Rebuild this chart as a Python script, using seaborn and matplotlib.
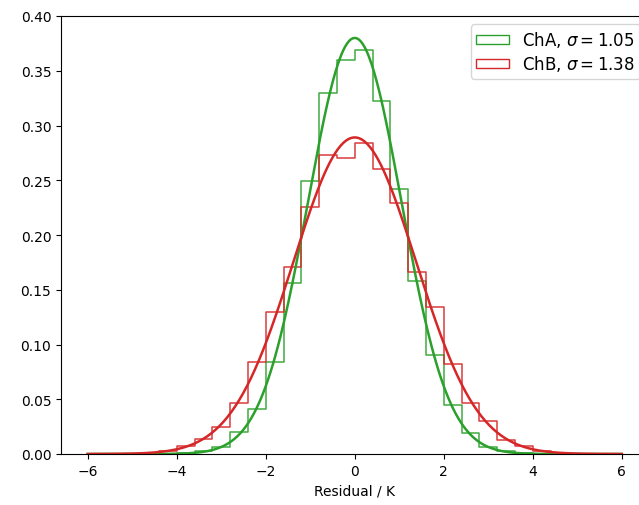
import numpy as np
import pandas as pd
import matplotlib
matplotlib.use("Agg")
import matplotlib.pyplot as plt
import matplotlib.patches as mpatches
import seaborn as sns

# bins of width 0.4 from -6 to 6
bin_edges = np.linspace(-6, 6, 31)
bin_centers = (bin_edges[:-1] + bin_edges[1:]) / 2

# normalised counts (30 bins, -6 .. 6)
cha_density = [0, 0, 0, 0, 0, 0.0006, 0.003, 0.0067, 0.0204, 0.041,
               0.0843, 0.156, 0.2496, 0.330, 0.360, 0.369, 0.322, 0.242,
               0.158, 0.0907, 0.0447, 0.0189, 0.0067, 0.003, 0.0006,
               0, 0, 0, 0, 0]
chb_density = [0, 0, 0, 0.001, 0.003, 0.0076, 0.0137, 0.0244, 0.0463, 0.0843,
               0.130, 0.171, 0.226, 0.273, 0.270, 0.284, 0.260, 0.229,
               0.166, 0.1345, 0.0825, 0.047, 0.0298, 0.0128, 0.0076,
               0.003, 0.001, 0, 0, 0]
cha_sigma = 1.05
chb_sigma = 1.38

green = "#2ca02c"
red = "#d62728"

fig = plt.figure(figsize=(6.39, 5.06), dpi=100)
ax = fig.add_axes([61 / 639, 51 / 506, 587.5 / 639, 438 / 506])

df_a = pd.DataFrame({"x": bin_centers, "w": cha_density})
df_b = pd.DataFrame({"x": bin_centers, "w": chb_density})
sns.histplot(data=df_a, x="x", weights="w", bins=list(bin_edges),
             element="step", fill=False, color=green, lw=1.1, alpha=0.9, ax=ax)
sns.histplot(data=df_b, x="x", weights="w", bins=list(bin_edges),
             element="step", fill=False, color=red, lw=1.1, alpha=0.9, ax=ax)

# gaussian fits
xs = np.linspace(-6, 6, 400)
for sig, col in [(cha_sigma, green), (chb_sigma, red)]:
    pdf = np.exp(-xs ** 2 / (2 * sig ** 2)) / (np.sqrt(2 * np.pi) * sig)
    sns.lineplot(x=xs, y=pdf, color=col, lw=1.8, ax=ax)

ax.set_xlim(-6.6, 6.6)
ax.set_ylim(0, 0.4)
ax.set_xlabel("Residual / K")
ax.set_ylabel("")

handles = [
    mpatches.Patch(facecolor="none", edgecolor=green, label=r"ChA, $\sigma = 1.05$"),
    mpatches.Patch(facecolor="none", edgecolor=red, label=r"ChB, $\sigma = 1.38$"),
]
ax.legend(handles=handles, loc="upper right", fontsize=12,
          handleheight=0.5, labelspacing=0.25, borderpad=0.3)

fig.savefig("out.png", dpi=100)
